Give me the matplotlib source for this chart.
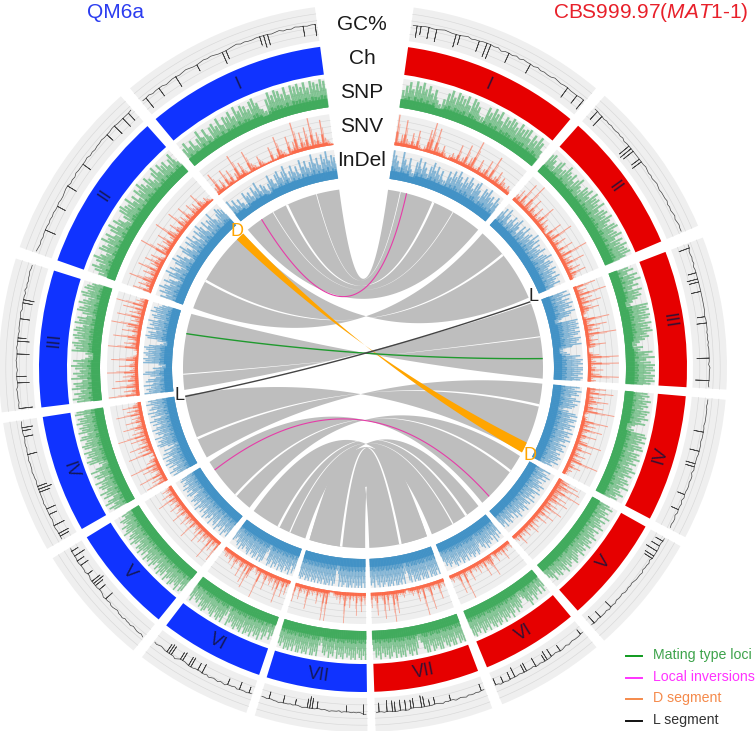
import numpy as np
import matplotlib
matplotlib.use("Agg")
import matplotlib.pyplot as plt
from matplotlib.lines import Line2D

plt.rcParams['font.family'] = ['Liberation Sans', 'DejaVu Sans']
plt.rcParams['mathtext.fontset'] = 'custom'
plt.rcParams['mathtext.rm'] = 'Liberation Sans'
plt.rcParams['mathtext.it'] = 'Liberation Sans:italic'

CHROMS = ['I', 'II', 'III', 'IV', 'V', 'VI', 'VII']
SPAN_QM6A = [(320.2, 352.4), (289.4, 318.3), (263.0, 287.5), (240.2, 261.3), (219.1, 238.5), (198.7, 217.4), (179.3, 197.3)]
SPAN_CBS = [(8.0, 39.8), (41.6, 67.0), (69.0, 93.4), (95.0, 117.7), (119.3, 138.5), (140.1, 157.5), (159.2, 178.0)]

SNP_QM6A = [
 [5,7,4,6,3,5,8,4,7,3,6,7,5,8,4,7,6,8,5,9,6,8,7,5,8,9,6,3,2,6,9,7,9,8,6,9,5,9,8,9,7,9,6,9,8,7,9,8],
 [4,6,8,5,7,9,6,4,8,7,5,9,6,8,4,7,9,5,8,6,3,5,8,9,7,6,9,5,7,4,8,6,9,7,5,8,6,4,7,9,5,8,6,7,4,6,8,3],
 [7,9,6,8,5,9,7,8,4,9,6,8,5,7,9,6,8,3,2,3,9,7,8,9,6,8,9,7,9,8,5,9,7,8,4,6,9,8,6,9,7,5,8,9,6,8,7,5],
 [6,8,5,9,7,4,8,6,9,5,7,8,6,9,4,7,8,5,9,6,3,4,8,9,6,8,7,9,5,8,9,7,6,9,8,5,9,7,8,6,9,7,8,5,9,8],
 [7,8,5,9,7,6,8,9,6,7,9,5,8,7,9,6,8,5,7,9,6,8,7,9,5,8,6,9,7,8,5,7,9,6,8,7,5,9,7,6,8,5,6,7,4,5],
 [5,7,4,6,8,5,9,7,8,6,9,7,8,9,6,9,8,7,9,8,6,7,9,3,5,9,7,9,8,6,9,8,7,6,8,9,7,8,5,7,6,5,8,6],
 [9,7,9,8,6,9,8,9,7,8,6,9,8,7,9,5,8,7,9,6,8,7,3,4,9,7,9,9,6,9,8,9,7,9,9,6,9,7,9,8,9,6,8,7],
]
SNP_CBS = [
 [4,6,8,5,9,7,9,6,8,5,7,3,2,4,7,9,6,9,8,7,9,5,9,8,6,3,3,8,6,9,7,9,5,8,7,9,8,6,9,7,8,9,5,8,6,9,7,4],
 [6,7,5,3,6,7,4,5,8,6,5,7,4,6,8,5,4,7,6,8,5,9,7,8,6,9,5,7,8,6,9,7,5,8,9,6,7,9,5,8,6,9,7,8,9,6],
 [5,7,4,8,6,9,5,7,4,8,6,7,5,3,2,9,8,9,7,9,8,6,9,7,8,9,6,7,5,3,2,4,3,8,6,9,5,7,9,8,9,7,9,8,9,7],
 [6,7,5,8,6,7,5,8,7,6,8,5,7,3,2,3,8,9,7,9,6,8,9,5,8,7,9,6,8,5,7,9,6,8,5,7,8,6,9,5,6,8,5,6],
 [5,7,4,6,5,8,4,7,5,6,8,4,7,5,6,8,5,7,6,8,5,7,6,8,5,6,7,8,5,6,7,5,8,6,5,7,6,4,7,5,4],
 [5,7,4,7,5,6,8,5,7,9,6,4,3,5,7,6,8,5,7,9,6,8,7,9,6,8,9,7,9,8,6,9,7,8,9,6,8,7,9,8],
 [9,8,9,6,9,9,7,9,8,6,9,9,7,8,9,6,9,9,7,4,3,6,9,7,9,8,6,9,8,9,7,9,6,8,9,7,8,6,9,7,8,5],
]
SNV_QM6A = [
 [3,7,2,4,1,6,2,5,1,3,8,2,5,2,1,7,3,2,1,4,2,1,1,1,5,1,2,7,3,2,1,6,2,4,9,2,6,3,7,2,9,3,5,2,8,3,2,1],
 [6,2,5,3,8,4,2,5,3,7,2,4,6,3,5,2,1,9,3,5,2,4,6,2,3,8,4,2,5,3,2,7,3,4,2,6,3,2,5,3,4,2,6,3,2,3,2,1],
 [9,3,5,2,8,4,2,7,3,5,2,9,3,2,6,3,2,8,4,2,1,1,2,9,3,5,2,4,8,3,2,6,3,5,9,2,4,3,8,2,5,3,7,2,9,3,4,3],
 [7,3,5,2,8,3,2,4,6,3,9,2,4,3,1,2,1,8,2,5,3,7,2,4,3,6,2,9,3,5,2,4,7,3,2,6,3,4,2,8,3,5,2,6,3,2],
 [7,2,3,5,2,8,3,2,4,3,5,2,3,6,2,4,3,2,3,7,2,3,4,2,5,3,2,3,6,2,4,3,2,5,3,2,4,3,7,2,3,5,2,3,4,2],
 [2,5,2,6,3,2,8,3,5,2,3,4,3,2,6,3,2,2,9,2,3,2,1,2,5,8,2,7,2,3,6,3,2,3,5,3,2,4,3,2,3,3,2,2],
 [4,2,6,3,2,7,2,3,2,5,2,3,9,3,2,4,2,3,2,2,1,1,2,9,3,9,2,3,2,5,2,2,3,2,3,7,2,3,2,3,5,2,2,6],
]
SNV_CBS = [
 [9,2,4,8,3,2,5,2,6,2,1,2,7,9,2,8,3,2,4,2,1,2,3,2,6,2,3,7,2,4,9,2,2,5,2,3,6,2,8,2,3,5,2,4,3,2,3,2],
 [3,5,2,8,3,2,9,4,2,6,3,2,5,2,3,7,2,4,2,3,2,1,6,2,3,8,2,3,5,2,2,6,2,3,9,2,4,3,7,2,3,5,2,6,3,2],
 [7,2,4,3,9,2,5,3,7,2,4,6,3,2,1,2,8,3,2,7,3,5,2,9,3,2,4,2,6,3,1,1,2,4,9,2,3,9,2,3,5,2,4,9,2,3],
 [6,3,8,2,5,3,7,4,2,6,3,9,2,1,2,2,8,3,5,2,7,3,2,6,3,2,4,8,2,3,6,2,3,5,2,4,9,2,3,5,2,3,2,2],
 [4,7,3,8,5,3,9,4,3,6,3,7,4,2,5,3,7,2,4,2,6,3,2,5,2,3,2,4,2,5,2,3,2,4,2,3,2,5,2,3,2],
 [3,2,2,3,2,5,2,3,2,2,4,2,1,3,7,4,3,2,6,2,3,2,4,2,3,2,2,5,2,2,3,9,2,2,7,3,2,2,3,2],
 [3,2,3,6,2,2,3,2,8,3,2,2,9,2,3,5,2,2,3,2,2,1,2,3,2,2,2,7,3,9,2,2,6,2,8,3,2,2,7,3,2,5],
]
INDEL_QM6A = [
 [7,4,6,3,5,3,2,6,4,5,3,6,4,7,3,5,4,2,4,7,5,3,6,7,4,6,8,3,5,7,4,6,3,8,5,7,4,6,9,5,7,4,8,6,9,5,7,6],
 [7,5,8,6,9,7,5,8,6,3,7,9,5,8,6,4,7,9,6,8,5,3,7,9,6,4,8,6,9,5,7,4,8,6,9,7,4,8,5,7,6,9,5,4,6,8,7,6],
 [9,7,8,6,9,5,8,7,4,6,9,8,4,5,2,3,9,8,9,7,8,9,7,8,9,7,3,2,4,8,9,7,8,5,9,6,8,7,9,5,7,8,6,9,7,8,6,5],
 [8,6,9,7,5,8,6,9,7,8,5,9,6,8,4,7,3,5,8,9,7,8,6,9,5,7,8,6,9,7,5,8,6,9,7,4,8,6,9,5,8,7,6,9,7,8],
 [8,6,7,9,5,8,6,7,9,4,8,7,6,9,5,7,8,6,9,7,5,8,6,7,9,5,8,6,7,8,6,4,7,8,5,7,6,8,5,7,6,5,7,6],
 [6,8,5,9,7,8,6,9,8,7,9,6,8,7,9,6,8,9,7,3,4,8,9,7,9,6,8,9,7,8,6,9,8,7,6,8,7,9,6,8,7,5,6,7],
 [9,7,9,8,9,8,9,7,9,8,9,9,7,8,9,7,9,4,3,8,9,7,9,8,9,9,7,9,8,9,7,9,8,9,7,9,8,9,7,8,9,8],
]
INDEL_CBS = [
 [9,7,5,3,9,6,4,7,3,2,6,8,4,7,5,3,6,8,5,7,4,6,3,3,7,5,8,6,9,7,5,8,6,9,7,5,8,9,6,4,8,7,9,6,7,5,8,6],
 [5,7,4,8,6,3,5,7,4,6,8,5,3,7,5,8,4,6,7,5,9,6,8,4,7,5,6,8,4,6,7,9,5,7,8,6,5,8,6,7,5,8,6,5,7,4],
 [8,6,9,5,8,6,9,7,8,5,9,7,6,3,2,9,8,9,8,9,7,9,8,6,9,8,7,9,5,2,2,3,4,8,6,9,8,9,7,9,9,8,9,7,9,8],
 [8,6,9,7,8,5,7,9,6,8,7,6,3,5,8,9,6,9,8,6,9,7,8,5,9,7,8,6,9,7,5,8,6,7,8,5,7,6,8,7,6,8,5,6],
 [7,4,6,8,5,7,4,6,5,8,6,7,4,8,6,5,7,5,8,4,7,6,5,8,6,7,5,6,8,5,7,4,6,5,7,6,4,7,5,6],
 [7,5,8,6,9,5,7,6,8,7,9,6,8,7,5,6,8,9,7,8,9,7,8,6,9,7,8,9,6,8,7,9,8,6,7,8,6,7,5],
 [9,7,9,9,8,9,6,9,9,8,9,7,9,9,8,9,6,9,8,4,5,9,7,9,8,9,9,7,9,8,9,9,7,8,9,7,9,8,6,9,7,8],
]
GC_QM6A = [
 [44,26,45,43,44,30,44,42,43,44,27,43,44,45,44,43,33,44,45,44,45,44,43,25,30,44,45,46,44,45,44,44,45,32,27,29,44,45,46,44,45,44,46,45,30,44,45,28],
 [45,44,43,44,43,44,28,44,43,44,43,44,43,30,44,43,43,44,45,30,43,44,43,45,44,44,30,44,45,43,44,43,44,44,45,44,32,44,45,29,44,44,28,44,30,45],
 [24,44,43,44,44,44,45,43,26,44,30,44,43,44,44,45,44,26,44,45,44,27,32,44,43,44,44,44,30,44,45,43,44,30,28,44,43,45,43,44,43,44,44,45,44,44],
 [44,30,28,44,45,28,44,43,44,32,44,30,44,45,44,44,44,28,24,30,44,43,44,44,45,44,44,44,45,44,30,44,43,44,44,43,30,44,32,28,44,43],
 [46,44,45,45,44,43,45,44,44,43,45,44,44,42,43,44,44,42,43,30,44,42,41,30,42,28,24,27,42,40,32,42,41,41,28,42,30,41,24,41,30,40],
 [41,32,42,41,41,30,42,40,41,41,32,43,42,41,43,42,41,42,43,41,42,28,41,30,41,42,27,28,41,40,27,29,42,44,42,28,27,29,42,41,40,41,42,41],
 [44,30,42,41,42,41,42,41,32,41,42,40,41,41,41,42,41,40,41,40,30,41,26,24,28,41,42,41,40,32,41,40,41,41,30,41,42,41,41,40,30,41,40,40],
]
GC_CBS = [
 [44,27,32,45,28,44,26,45,46,45,44,25,30,45,46,44,45,29,46,25,24,45,46,43,45,30,44,46,44,46,45,30,44,46,44,45,44,44,46,45,44,45,28,44,44,30,45,28],
 [46,30,45,26,44,45,44,45,44,44,45,44,45,43,44,26,24,26,44,44,30,28,44,45,44,43,44,43,44,45,44,43,44,44,44,45,43,44,43,44,45,43,44,45,44,44],
 [46,30,44,44,45,44,45,43,44,32,44,28,30,44,44,30,44,44,44,44,44,44,43,32,44,30,44,44,43,44,43,44,43,44,44,44,26,44,43,45,44,44,44,24,43,44],
 [44,44,43,44,44,44,44,44,43,44,30,44,44,43,44,44,30,44,43,43,29,30,44,42,44,44,43,44,44,43,32,44,42,44,43,32,44,42,44,44,43,44],
 [44,32,43,30,44,26,44,29,31,42,44,43,43,42,44,43,43,43,42,41,42,41,42,42,40,41,41,40,42,41,30,42,40,41,41,30,40,41,28,40],
 [40,32,41,41,41,40,41,42,40,41,42,32,41,40,41,29,42,28,32,42,41,42,28,40,41,41,28,29,41,40,41,26,41,30,42,41,32,42,40,30],
 [40,30,41,40,41,41,40,42,41,40,41,42,40,32,41,40,42,41,40,30,41,32,41,26,24,41,40,26,28,42,27,41,26,42,28,26,41,25,42,41,28,42],
]

LINK_QM6A = [(352.4, 320.2), (318.3, 289.4), (287.5, 263.0), (261.3, 240.2), (238.5, 219.1), (217.4, 198.7), (197.3, 179.3), (197.3, 187.0)]
LINK_CBS = [(8.0, 39.8), (67.0, 41.6), (93.4, 69.0), (117.7, 95.0), (138.5, 119.3), (157.5, 140.1), (178.0, 159.2), (159.2, 168.0)]
LINK_BEND = [0, -3, 8, 4, 14, 10, 18, 12]
LINK_BEND_LOW = [0, -3, 8, 4, 14, 10, 18, -60]
GAP_QM6A = [335, 345, 299, 268, 247, 225, 208, 187, 204, 330]
GAP_CBS = [23, 12, 51, 80, 102, 125, 145, 168, 150, 30]
GAP_BEND = [0, 0, -3, 8, 4, 14, 10, 18, 10, 0]
GAP_WIDTH = [0.8, 0.25, 0.8, 0.35, 0.8, 0.8, 0.8, 0.8, 0.4, 0.25]
INVERSION_QM6A = [325.7, 235.5]
INVERSION_CBS = [14.0, 135.5]
INVERSION_BEND = [-18, 12]
MAT_ANGLES = (281.0, 87.0)
L_ANGLES = (260.9, 68.4)
D_QM6A = (315.5, 318.3)
D_CBS = (114.5, 118.0)

W, H = 756, 731
CX, CY = 363, 368
RMAX = 372
fig = plt.figure(figsize=(W / 100, H / 100), dpi=100)
ax = fig.add_axes([(CX - RMAX) / W, (H - CY - RMAX) / H, 2 * RMAX / W, 2 * RMAX / H], projection='polar')
ax.set_theta_zero_location('N')
ax.set_theta_direction(-1)
ax.set_rlim(0, RMAX)
ax.axis('off')


def arc(a0, a1, n=40):
    return np.radians(np.linspace(a0, a1, n))


def ring_bg(span, r0, r1, grid=4):
    a0, a1 = span
    ax.bar(np.radians((a0 + a1) / 2), r1 - r0, np.radians(a1 - a0), bottom=r0, color='#efefef', lw=0, zorder=1)
    for rr in np.linspace(r0, r1, grid + 2)[1:-1]:
        t = arc(a0, a1)
        ax.plot(t, np.full_like(t, rr), color='#d8d8d8', lw=0.45, zorder=1.5)


def spikes(span, vals, r0, r1, color, cap, power, fill):
    a0, a1 = span
    v = (np.asarray(vals, float) / 9) ** power
    n = len(v)
    t = np.radians(a0 + (np.arange(n) + 0.5) * (a1 - a0) / n)
    h = r1 - r0
    px = np.radians(a1 - a0) * (r0 + r1) / 2 / n
    w = px * 0.72
    ax.vlines(t, r0, r0 + v * h, color=color, lw=w * 0.75 * fill, alpha=0.6, zorder=2)
    ax.vlines(t + np.radians(a1 - a0) / n / 2, r0, r0 + 0.7 * v * h, color=color, lw=w * 0.45 * fill, alpha=0.5, zorder=2.2)
    ax.vlines(t, r0, r0 + 0.45 * v * h, color=color, lw=w * 0.8, alpha=0.7, zorder=2.4)
    low = np.minimum(np.minimum(v, np.roll(v, 1)), np.roll(v, -1))
    body = np.minimum(low * 0.6, cap)
    ax.vlines(t, r0, r0 + body * h, color=color, lw=w * 1.1, zorder=2.5)


def gc_line(span, vals):
    a0, a1 = span
    n = len(vals)
    ts, rs = [], []
    to_r = lambda g: 330 + (g - 20) * 0.68
    base = 44
    for i, g in enumerate(vals):
        th = a0 + (i + 0.5) * (a1 - a0) / n
        if abs(g - base) > 5:
            ts += [th, th, th]
            rs += [to_r(base), to_r(g), to_r(base)]
        else:
            base = g
            ts.append(th)
            rs.append(to_r(g))
    ax.plot(np.radians(ts), rs, color='#444444', lw=0.5, zorder=3)


def p(a, r=180.0):
    a = np.radians(a)
    return np.array([r * np.sin(a), r * np.cos(a)])


def bez(a, b, c, n=60):
    s = np.linspace(0, 1, n)[:, None]
    ctrl = np.array([0.0, float(c)])
    return (1 - s) ** 2 * p(a) + 2 * s * (1 - s) * ctrl + s ** 2 * p(b)


def to_polar(xy):
    return np.arctan2(xy[:, 0], xy[:, 1]), np.hypot(xy[:, 0], xy[:, 1])


def ribbon(a1, a2, b1, b2, c, color, z, c2=None):
    e1 = bez(a1, b1, c)
    e2 = bez(b2, a2, c if c2 is None else c2)
    rim_b = np.array([p(x) for x in np.linspace(b1, b2, 20)])
    rim_a = np.array([p(x) for x in np.linspace(a2, a1, 20)])
    th, r = to_polar(np.vstack([e1, rim_b, e2, rim_a]))
    ax.fill(th, r, color=color, lw=0, zorder=z)


def chord(a, b, c, color, lw, z=6):
    th, r = to_polar(bez(a, b, c, 120))
    ax.plot(th, r, color=color, lw=lw, zorder=z, solid_capstyle='butt')


for side, (spans, col, snp, snv, ind, gc) in enumerate([
        (SPAN_QM6A, '#1033ff', SNP_QM6A, SNV_QM6A, INDEL_QM6A, GC_QM6A),
        (SPAN_CBS, '#e60000', SNP_CBS, SNV_CBS, INDEL_CBS, GC_CBS)]):
    for i, sp in enumerate(spans):
        ring_bg(sp, 330, 364)
        ring_bg(sp, 263, 292)
        ring_bg(sp, 225, 256)
        ring_bg(sp, 191, 220)
        ax.bar(np.radians(sum(sp) / 2), 28, np.radians(sp[1] - sp[0]), bottom=296, color=col, lw=0, zorder=2)
        spikes(sp, snp[i], 263, 292, '#41ab5d', 0.3, 0.6, 1.0)
        spikes(sp, snv[i], 225, 256, '#fb6a4a', 0.1, 1.2, 0.6)
        spikes(sp, ind[i], 191, 220, '#4292c6', 0.28, 0.7, 1.0)
        gc_line(sp, gc[i])
        m = sum(sp) / 2
        rot = -m if (m < 90 or m > 270) else 180 - m
        ax.text(np.radians(m), 310, CHROMS[i], rotation=rot, rotation_mode='anchor', ha='center', va='center',
                fontsize=13, color='#14143c', alpha=0.85, zorder=8)

for i in range(len(LINK_BEND)):
    ribbon(LINK_QM6A[i][0], LINK_QM6A[i][1], LINK_CBS[i][0], LINK_CBS[i][1], LINK_BEND[i], '#bebebe', 4 + i * 0.01, LINK_BEND_LOW[i])
for a, b, c, w in zip(GAP_QM6A, GAP_CBS, GAP_BEND, GAP_WIDTH):
    ribbon(a - w / 2, a + w / 2, b - w / 2, b + w / 2, c, 'white', 4.5)

ribbon(D_QM6A[0], D_QM6A[1], D_CBS[0], D_CBS[1], 8, '#ffa500', 5)
for a, b, c in zip(INVERSION_QM6A, INVERSION_CBS, INVERSION_BEND):
    chord(a, b, c, '#e63ca8', 0.8)
chord(MAT_ANGLES[0], MAT_ANGLES[1], 8, '#1f9a2e', 1.0)
chord(L_ANGLES[0], L_ANGLES[1], 8, '#444444', 1.0)


def fx(x):
    return x / W


def fy(y):
    return 1 - y / H


CENTER_LABELS = ['GC%', 'Ch', 'SNP', 'SNV', 'InDel']
CENTER_Y = [24, 58, 92, 127, 160]
for s, y in zip(CENTER_LABELS, CENTER_Y):
    fig.text(fx(362), fy(y), s, fontsize=15, ha='center', va='center', color='#1a1a1a', zorder=10)

fig.text(fx(116), fy(13), 'QM6a', fontsize=15, ha='center', va='center', color='#2b3cf0')
fig.text(fx(553), fy(13), r'CBS999.97($\mathit{MAT1}$-$\mathit{1}$)', fontsize=15, ha='left', va='center', color='#e8202a')

fig.text(fx(237), fy(232), 'D', fontsize=13, ha='center', va='center', color='#ffa500', zorder=10)
fig.text(fx(530), fy(456), 'D', fontsize=13, ha='center', va='center', color='#ffa500', zorder=10)
fig.text(fx(534), fy(297), 'L', fontsize=13, ha='center', va='center', color='#222222', zorder=10)
fig.text(fx(180), fy(395), 'L', fontsize=13, ha='center', va='center', color='#222222', zorder=10)

LEGEND_LABELS = ['Mating type loci', 'Local inversions', 'D segment', 'L segment']
LEGEND_LINE = ['#0f9a1e', '#ff33ff', '#f58a4b', '#111111']
LEGEND_TEXT = ['#3da34b', '#ff33ff', '#f58a4b', '#333333']
LEGEND_Y = [656, 678, 699, 721]
for s, lc, tc, y in zip(LEGEND_LABELS, LEGEND_LINE, LEGEND_TEXT, LEGEND_Y):
    fig.add_artist(Line2D([fx(626), fx(642)], [fy(y), fy(y)], color=lc, lw=1.4))
    fig.text(fx(653), fy(y - 1), s, fontsize=10.2, ha='left', va='center', color=tc)

fig.savefig('out.png', dpi=100)
